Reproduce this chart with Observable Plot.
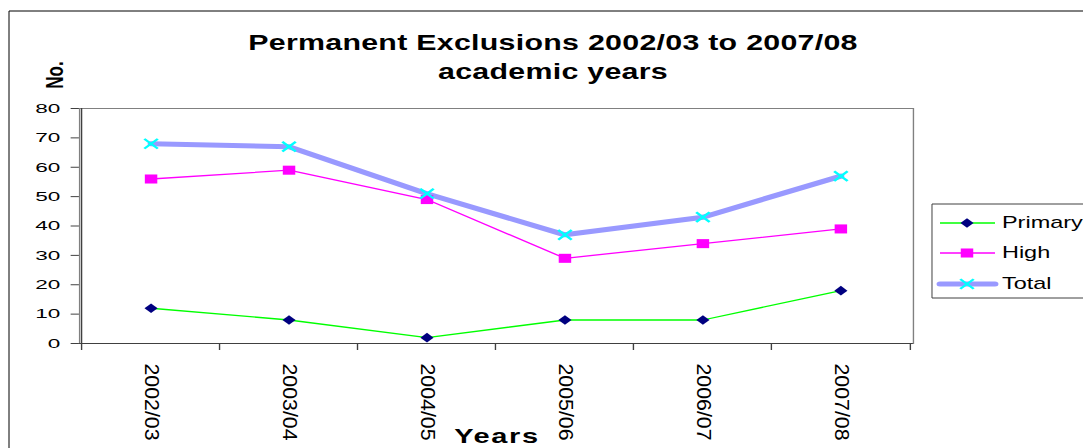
<!DOCTYPE html>
<html><head><meta charset="utf-8">
<script src="https://cdn.jsdelivr.net/npm/d3@7"></script>
<script src="https://cdn.jsdelivr.net/npm/@observablehq/plot@0.6"></script>
<style>
html,body{margin:0;padding:0;background:#fff;overflow:hidden}
#chart svg text{font-family:"Liberation Sans",Arial,sans-serif}
</style></head><body><div id="chart"></div>
<script>
const categories = ["2002/03","2003/04","2004/05","2005/06","2006/07","2007/08"];
const primary = [12, 8, 2, 8, 8, 18];
const high = [56, 59, 49, 29, 34, 39];
const total = [68, 67, 51, 37, 43, 57];
const seriesNames = ["Primary", "High", "Total"];
const yTicks = [0, 10, 20, 30, 40, 50, 60, 70, 80];
const titleLines = ["Permanent Exclusions 2002/03 to 2007/08", "academic years"];
const yLabel = "No.";
const xLabel = "Years";

const seriesValues = [primary, high, total];
const rows = [];
seriesNames.forEach((s, k) => categories.forEach((c, i) => rows.push({series: s, year: c, value: seriesValues[k][i]})));
const bySeries = s => rows.filter(d => d.series === s);

const W = 785, H = 448, S = 1083 / W;
const mL = 57.2, mR = 123.4, mT = 108, mB = 105;
const step = (W - mL - mR) / categories.length;

const styles = {
  Primary: {line: "#00FF00", lw: 1.3, symbol: "diamond2", r: 4.3, fill: "#000080", stroke: "none", sw: 0},
  High: {line: "#FF00FF", lw: 1.3, symbol: "square", r: 5.1, fill: "#FF00FF", stroke: "none", sw: 0},
  Total: {line: "#9999FF", lw: 5, symbol: "times", r: 4.5, fill: "none", stroke: "#00FFFF", sw: 2}
};

const marks = [
  Plot.frame({stroke: "#808080"}),
  Plot.ruleY([0], {stroke: "#404040"}),
  Plot.ruleX([categories[0]], {dx: -step / 2, stroke: "#404040"}),
  Plot.axisY({ticks: yTicks, tickSize: 6, tickPadding: 8, fontSize: 13.5, label: null, stroke: "#404040", fill: "#000"}),
  Plot.axisX({tickSize: 7, tickFormat: () => "", dx: -step / 2, label: null, stroke: "#404040"}),
  Plot.axisX({ticks: [categories[categories.length - 1]], tickSize: 7, tickFormat: () => "", dx: step / 2, label: null, stroke: "#404040"}),
  Plot.axisX({tickSize: 0, tickPadding: 20, tickRotate: 90, fontSize: 14, label: null, fill: "#000"})
];
seriesNames.forEach(s => {
  const st = styles[s];
  marks.push(Plot.line(bySeries(s), {x: "year", y: "value", stroke: st.line, strokeWidth: st.lw, strokeLinejoin: "round"}));
});
seriesNames.forEach(s => {
  const st = styles[s];
  marks.push(Plot.dot(bySeries(s), {x: "year", y: "value", symbol: st.symbol, r: st.r, fill: st.fill, stroke: st.stroke, strokeWidth: st.sw}));
});

const plot = Plot.plot({
  width: W, height: H,
  marginLeft: mL, marginRight: mR, marginTop: mT, marginBottom: mB,
  style: {fontFamily: "Liberation Sans, Arial, sans-serif", background: "#fff"},
  x: {type: "point", domain: categories, padding: 0.5},
  y: {domain: [0, 80]},
  marks
});

plot.setAttribute("width", 1083);
plot.setAttribute("height", H);
plot.setAttribute("viewBox", `0 0 ${W} ${H}`);
plot.setAttribute("preserveAspectRatio", "none");
plot.style.width = "1083px";
plot.style.height = H + "px";
plot.style.maxWidth = "none";

const svg = d3.select(plot);

// stretch tick label glyphs like the reference
svg.selectAll('g[aria-label="x-axis tick label"] text').each(function () {
  const n = this.textContent.length;
  if (n) { this.setAttribute("textLength", n * 11); this.setAttribute("lengthAdjust", "spacingAndGlyphs"); }
});
svg.selectAll('g[aria-label="y-axis tick label"] text').each(function () {
  const n = this.textContent.length;
  if (n) { this.setAttribute("textLength", n * 9.1); this.setAttribute("lengthAdjust", "spacingAndGlyphs"); }
});

svg.append("rect").attr("x", 9 / S).attr("y", 11).attr("width", W + 20).attr("height", H + 20)
  .attr("fill", "none").attr("stroke", "#000").attr("stroke-width", 1).attr("vector-effect", "non-scaling-stroke");

const font = "Liberation Sans, Arial, sans-serif";
const cx = 553 / S;
svg.append("text").attr("x", cx).attr("y", 50).attr("text-anchor", "middle").attr("font-weight", "bold")
  .attr("font-size", 22).attr("letter-spacing", 0.2).attr("font-family", font).text(titleLines[0]);
svg.append("text").attr("x", cx).attr("y", 79).attr("text-anchor", "middle").attr("font-weight", "bold")
  .attr("font-size", 22).attr("letter-spacing", 0.2).attr("font-family", font).text(titleLines[1]);

svg.append("text").attr("transform", `translate(${55 / S},${75}) rotate(-90)`).attr("text-anchor", "middle")
  .attr("dy", "0.35em").attr("font-weight", "bold").attr("font-size", 17).attr("font-family", font).text(yLabel);

svg.append("text").attr("x", 497 / S).attr("y", 443).attr("text-anchor", "middle").attr("font-weight", "bold")
  .attr("font-size", 21).attr("letter-spacing", 1.2).attr("font-family", font).text(xLabel);

// legend
const lg = svg.append("g").attr("text-anchor", "start");
lg.append("rect").attr("x", 932 / S).attr("y", 204).attr("width", 200).attr("height", 94)
  .attr("fill", "#fff").attr("stroke", "#404040").attr("vector-effect", "non-scaling-stroke");
const rowY = [223, 253, 284];
const symMap = {diamond2: d3.symbolDiamond2, square: d3.symbolSquare, times: d3.symbolTimes};
seriesNames.forEach((s, i) => {
  const st = styles[s];
  const y = rowY[i];
  lg.append("line").attr("x1", 940 / S).attr("x2", 995 / S).attr("y1", y).attr("y2", y)
    .attr("stroke", st.line).attr("stroke-width", st.lw).attr("stroke-linecap", s === "Total" ? "round" : "butt");
  lg.append("path").attr("transform", `translate(${967 / S},${y})`)
    .attr("d", d3.symbol(symMap[st.symbol], Math.PI * st.r * st.r)())
    .attr("fill", st.fill).attr("stroke", st.stroke).attr("stroke-width", st.sw);
  lg.append("text").attr("x", 1002 / S).attr("y", y + 5).attr("text-anchor", "start")
    .attr("font-size", 17).attr("font-family", font).text(s);
});

document.getElementById("chart").appendChild(plot);
</script></body></html>
